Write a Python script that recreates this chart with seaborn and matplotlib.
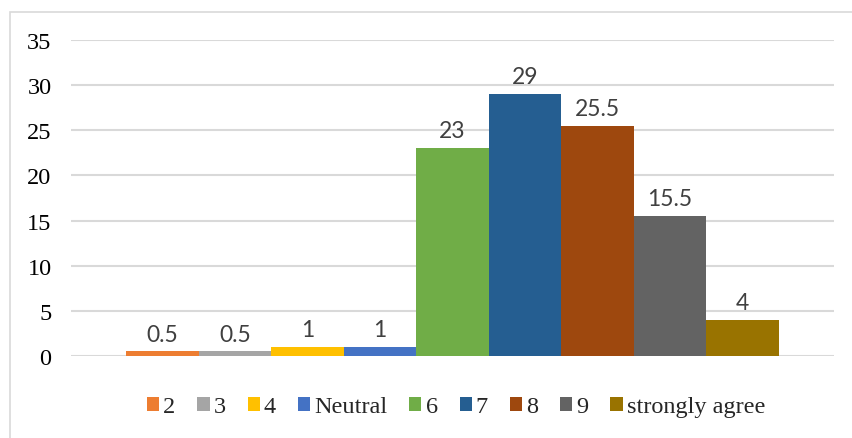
import matplotlib
matplotlib.use("Agg")
import matplotlib.pyplot as plt
from matplotlib.patches import Rectangle, Patch
import seaborn as sns
import pandas as pd

# Survey response shares per answer option
labels = ["2", "3", "4", "Neutral", "6", "7", "8", "9", "strongly agree"]
values = [0.5, 0.5, 1, 1, 23, 29, 25.5, 15.5, 4]
colors = ["#ED7D31", "#A5A5A5", "#FFC000", "#4472C4", "#70AD47",
          "#255E91", "#9E480E", "#636363", "#997300"]
y_ticks = [0, 5, 10, 15, 20, 25, 30, 35]

df = pd.DataFrame({"group": [""] * len(labels), "label": labels, "value": values})

sns.set_style("white")
W, H = 852, 439
fig = plt.figure(figsize=(W / 100, H / 100), dpi=100)
ax = fig.add_axes([71 / W, 1 - 357 / H, (834 - 71) / W, (357 - 41) / H])

sns.barplot(data=df, x="group", y="value", hue="label", hue_order=labels,
            palette=colors, width=653 / 763, saturation=1, ax=ax,
            legend=False, errorbar=None, linewidth=0, edgecolor="none")

ax.set_xlim(-0.5, 0.5)
ax.set_ylim(0, 35)
ax.set_yticks(y_ticks)
ax.set_yticklabels([str(t) for t in y_ticks], family="Liberation Serif",
                   fontsize=17.5, color="black")
ax.tick_params(axis="y", length=0, pad=14)
ax.tick_params(axis="x", length=0, labelbottom=False)
ax.set_xlabel("")
ax.set_ylabel("")
for s in ax.spines.values():
    s.set_visible(False)
ax.grid(axis="y", color="#D9D9D9", linewidth=1.5)
ax.set_axisbelow(True)

# Value labels above each bar
for container in ax.containers:
    ax.bar_label(container, fmt="%g", padding=5, fontsize=16.5,
                 family="Lato", color="#404040")

# Legend at the bottom
handles = [Patch(facecolor=c, edgecolor="none") for c in colors]
fig.legend(handles, labels, loc="center", bbox_to_anchor=(456 / W, 1 - 408 / H),
           ncol=len(labels), frameon=False, handlelength=0.5, handleheight=0.5,
           handletextpad=0.17, columnspacing=0.9,
           prop={"family": "Liberation Serif", "size": 17.5})

# Chart frame
fig.patches.append(Rectangle((9.5 / W, -0.1), 1.2, 1 - 12.5 / H + 0.1,
                             transform=fig.transFigure, fill=False,
                             edgecolor="#D9D9D9", linewidth=1.2))

fig.savefig("out.png", dpi=100)
